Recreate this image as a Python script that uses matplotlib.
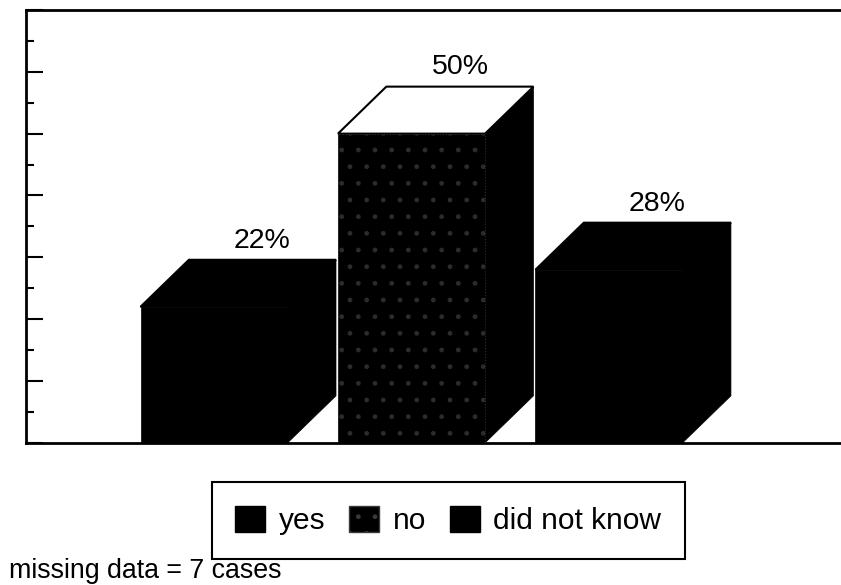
import matplotlib
matplotlib.use("Agg")
import matplotlib.pyplot as plt
from matplotlib.patches import Polygon, Patch

plt.rcParams['font.family'] = ['Liberation Sans', 'DejaVu Sans']

categories = ['yes', 'no', 'did not know']
values = [22, 50, 28]
labels = ['22%', '50%', '28%']
note = 'missing data = 7 cases'

# 3d look: how far the back of each bar is shifted
dx = 0.245
dy = 7.6
width = 0.745

fig = plt.figure(figsize=(8.41, 5.85), dpi=100)
ax = fig.add_axes([0.031, 0.243, 0.989, 0.740])

x = list(range(len(values)))

for i, v in zip(x, values):
    left = i - width / 2
    right = i + width / 2
    top_face = '#ffffff' if i == 1 else '#000000'
    # side face
    ax.add_patch(Polygon([(right, 0), (right + dx, dy), (right + dx, v + dy), (right, v)],
                         closed=True, facecolor='#000000', edgecolor='#000000', lw=0.5, zorder=2 + i))
    # top face
    ax.add_patch(Polygon([(left, v), (left + dx, v + dy), (right + dx, v + dy), (right, v)],
                         closed=True, facecolor=top_face, edgecolor='#000000', lw=1.5, zorder=2 + i))
    ax.text(i + dx, v + dy + 1.0, labels[i], ha='center', va='bottom', fontsize=20.5, zorder=10)

fronts = ax.bar(x, values, width=width, color='#000000', edgecolor='#000000', lw=0.5, zorder=5)
fronts[0].set_zorder(2.5)
fronts[1].set_zorder(3.5)
fronts[2].set_zorder(4.5)
# stippled front of the "no" bar
ax.bar([x[1]], [values[1]], width=width, facecolor='none', edgecolor='#2c2c2c', hatch='.',
       lw=0.8, linestyle=':', zorder=3.6)

ax.set_xlim(-0.952, 3.26)
ax.set_ylim(0, 70)
ax.set_yticks(range(0, 71, 10))
ax.set_yticks(range(5, 70, 10), minor=True)
ax.tick_params(axis='y', which='major', direction='in', length=12, width=1.5, labelleft=False)
ax.tick_params(axis='y', which='minor', direction='in', length=6, width=1.5)
ax.set_xticks([])
ax.spines['right'].set_visible(False)
for s in ['left', 'top', 'bottom']:
    ax.spines[s].set_linewidth(2)

handles = [Patch(facecolor='#000000', edgecolor='#000000'),
           Patch(facecolor='#000000', edgecolor='#3a3a3a', hatch='.'),
           Patch(facecolor='#000000', edgecolor='#000000')]
leg = fig.legend(handles, categories, loc='center', bbox_to_anchor=(0.533, 0.110), ncol=3,
                 fontsize=21.5, frameon=True, fancybox=False, framealpha=1,
                 handlelength=1.0, handleheight=0.95, handletextpad=0.45, columnspacing=0.8,
                 borderpad=0.8)
leg.get_frame().set_edgecolor('#000000')
leg.get_frame().set_linewidth(1.5)

fig.text(0.011, 0.024, note, fontsize=19.3, va='center', ha='left')

fig.savefig('out.png', dpi=100)
